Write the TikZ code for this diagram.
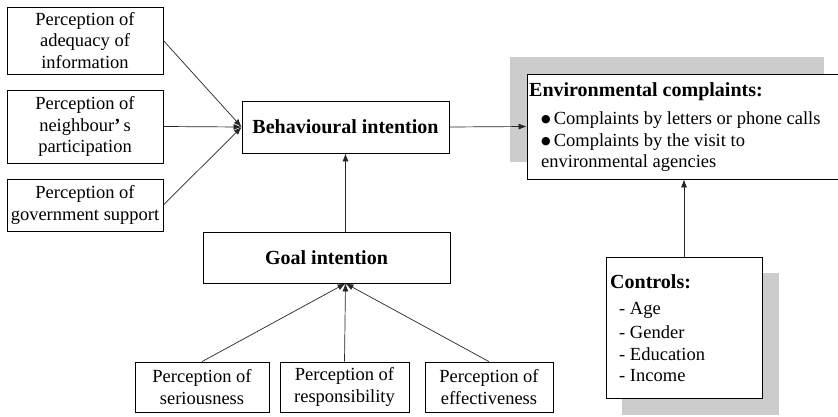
\documentclass[tikz,border=0pt]{standalone}
\usepackage{fontspec}
\setmainfont{Liberation Serif}
\newfontfamily\symfont{DejaVu Sans}
\usetikzlibrary{arrows.meta}
\definecolor{shadowgray}{RGB}{204,204,204}
\newcommand{\blt}{\raisebox{1.5pt}{\symfont\fontsize{11}{11}\selectfont ●}\hspace{3pt}}
\tikzset{
  box/.style={draw=black, line width=0.8pt, fill=white, inner sep=0pt, align=center,
    font=\fontsize{18.5}{21.5}\selectfont},
  boldbox/.style={box, font=\fontsize{20}{22}\selectfont\bfseries},
  txt/.style={inner sep=0pt, anchor=west, font=\fontsize{18.5}{21.5}\selectfont},
  title/.style={inner sep=0pt, anchor=west, font=\fontsize{20}{22}\selectfont\bfseries},
  conn/.style={draw=black!85, line width=0.7pt, -{Latex[length=8pt,width=6pt]}},
  shadowbox/.style={fill=shadowgray, draw=none}
}
\begin{document}
\begin{tikzpicture}[x=1pt,y=-1pt]
\useasboundingbox (0,0) rectangle (838,416);
\clip (0,0) rectangle (838,416);
\fill[white] (0,0) rectangle (838,416);

% left perception boxes
\node[box, minimum width=156pt, minimum height=67pt] (adeq) at (85,40.5)
  {Perception of\\adequacy of\\information};
\node[box, minimum width=156pt, minimum height=73pt] (neigh) at (85,126.5)
  {Perception of\\neighbour{\bfseries ’}\,s\\participation};
\node[box, minimum width=156pt, minimum height=52pt] (gov) at (85,205)
  {Perception of\\government support};

% behavioural intention
\node[boldbox, minimum width=207pt, minimum height=52pt] (behav) at (345.5,127)
  {Behavioural intention};

% goal intention
\node[boldbox, minimum width=247pt, minimum height=51pt] (goal) at (326.5,257.5)
  {Goal intention};

% bottom boxes
\node[box, minimum width=134pt, minimum height=50pt] (serious) at (202,387)
  {Perception of\\seriousness};
\node[box, minimum width=129pt, minimum height=50pt] (resp) at (344.5,387)
  {Perception of\\responsibility};
\node[box, minimum width=128pt, minimum height=50pt] (effect) at (489,387)
  {Perception of\\effectiveness};

% environmental complaints box with shadow
\fill[shadowgray] (510,57) rectangle (824,162);
\node[box, minimum width=323pt, minimum height=105pt] (env) at (688.5,126.5) {};
\node[title] (envtitle) at (529,92) {Environmental complaints:};
\node[txt] (envb1) at (541,120) {\blt Complaints by letters or phone calls};
\node[txt] (envb2) at (541,142) {\blt Complaints by the visit to};
\node[txt] (envb3) at (541,163.5) {environmental agencies};

% controls box with shadow
\fill[shadowgray] (622,273) rectangle (779,415);
\node[box, minimum width=156pt, minimum height=141pt] (ctrl) at (684,327.5) {};
\node[title] (ctrltitle) at (610,282) {Controls:};
\node[txt] (c1) at (619,310) {- Age};
\node[txt] (c2) at (619,332) {- Gender};
\node[txt] (c3) at (619,354) {- Education};
\node[txt] (c4) at (619,376) {- Income};

% connectors
\draw[conn] (adeq.east) -- (behav.west);
\draw[conn] (neigh.east) -- (behav.west);
\draw[conn] (gov.east) -- (behav.west);
\draw[conn] (behav.east) -- (env.west);
\draw[conn] (behav.south |- goal.north) -- (behav.south);
\coordinate (gtip) at (behav.south |- goal.south);
\draw[conn] (serious.north) -- (gtip);
\draw[conn] (resp.north) -- (gtip);
\draw[conn] (effect.north) -- (gtip);
\draw[conn] (ctrl.north) -- (ctrl.north |- env.south);
\end{tikzpicture}
\end{document}
